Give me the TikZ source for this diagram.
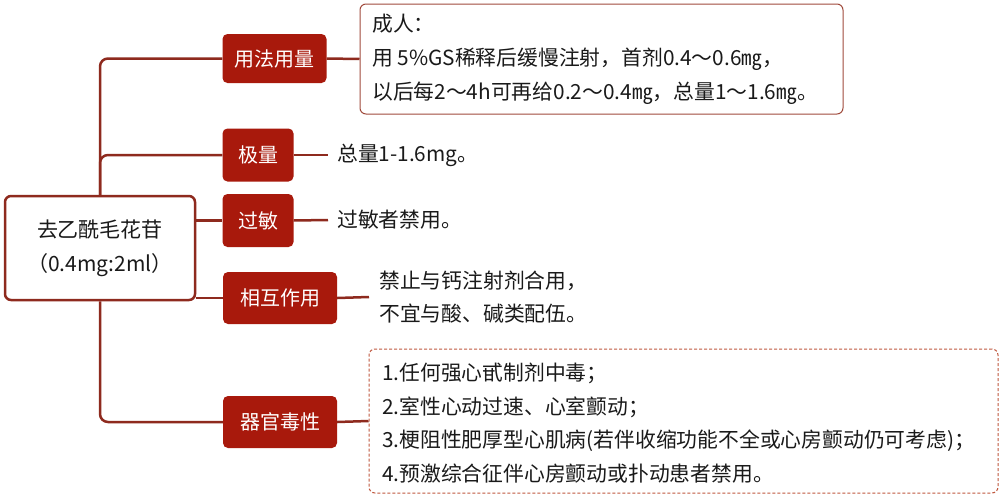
\documentclass[tikz,border=0pt]{standalone}
\usepackage{fontspec}
\setmainfont{Noto Sans CJK SC}
\definecolor{linecol}{HTML}{8E2A1E}
\definecolor{boxfill}{HTML}{A8190C}
\definecolor{leafborder}{HTML}{A04A3C}
\definecolor{dashcol}{HTML}{C0583F}
\definecolor{txtcol}{HTML}{1A1A1A}
\begin{document}
\begin{tikzpicture}[x=1pt,y=-1pt,
  conn/.style={draw=linecol, line width=2.5pt, rounded corners=8pt},
  catbox/.style={fill=boxfill, rounded corners=5pt, text=white, font=\fontsize{20}{22}\selectfont, inner sep=0pt},
  leaftext/.style={anchor=west, align=left, text=txtcol, font=\fontsize{20.8}{34}\selectfont, inner sep=0pt},
]
\useasboundingbox (0,0) rectangle (1005,501);
\fill[white] (0,0) rectangle (1005,501);

% root
\node[draw=linecol, line width=2.5pt, rounded corners=6pt, minimum width=190pt, minimum height=104pt,
      align=center, text=txtcol, font=\fontsize{21}{34}\selectfont, inner sep=0pt] (root) at (100,248)
      {去乙酰毛花苷\\（0.4mg:2ml）};

% category boxes
\node[catbox, minimum width=104pt, minimum height=49pt] (b1) at (274.5,58.5) {用法用量};
\node[catbox, minimum width=71pt, minimum height=53pt] (b2) at (258,155) {极量};
\node[catbox, minimum width=71pt, minimum height=53pt] (b3) at (258,220.5) {过敏};
\node[catbox, minimum width=114pt, minimum height=52pt] (b4) at (280,298) {相互作用};
\node[catbox, minimum width=114pt, minimum height=52pt] (b5) at (280,422) {器官毒性};

% leaves
\node[draw=leafborder, line width=1pt, rounded corners=6pt, minimum width=483pt, minimum height=110pt] (l1) at (601.5,59) {};
\node[leaftext] (t1) at (372,59) {成人：\\用 5\%GS稀释后缓慢注射，首剂0.4～0.6㎎，\\以后每2～4h可再给0.2～0.4㎎，总量1～1.6㎎。};
\node[leaftext] (t2) at (337,155) {总量1-1.6mg。};
\node[leaftext] (t3) at (337,220) {过敏者禁用。};
\node[leaftext, font=\fontsize{20.8}{33}\selectfont] (t4) at (379,297) {禁止与钙注射剂合用，\\不宜与酸、碱类配伍。};
\node[draw=dashcol, line width=1pt, dash pattern=on 3pt off 2pt, rounded corners=6pt, minimum width=629pt, minimum height=144pt] (l5) at (683.5,421) {};
\node[leaftext, font=\fontsize{20.8}{33.7}\selectfont] (t5) at (382,423) {1.任何强心甙制剂中毒；\\2.室性心动过速、心室颤动；\\3.梗阻性肥厚型心肌病(若伴收缩功能不全或心房颤动仍可考虑)；\\4.预激综合征伴心房颤动或扑动患者禁用。};

% connectors
\draw[conn] (root.north) |- (b1.west);
\draw[conn] (root.north) |- (b2.west);
\draw[conn] (root.south) |- (b5.west);
\draw[conn] (root.east |- b3.west) -- (b3.west);
\draw[conn] (root.east |- b4.west) -- (b4.west);
\draw[conn] (b1.east) -- (l1.west);
\draw[conn] (b2.east) -- ([xshift=-9pt]t2.west);
\draw[conn] (b3.east) -- ([xshift=-9pt]t3.west);
\draw[conn] (b4.east) -- ([xshift=-10pt]t4.west);
\draw[conn] (b5.east) -- (l5.west);
\end{tikzpicture}
\end{document}
